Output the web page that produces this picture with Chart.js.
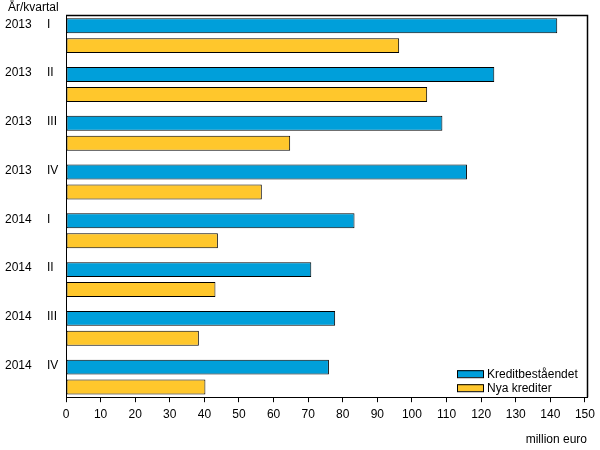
<!DOCTYPE html>
<html>
<head>
<meta charset="utf-8">
<script src="https://cdn.jsdelivr.net/npm/chart.js@4.4.0/dist/chart.umd.min.js"></script>
<style>
html,body{margin:0;padding:0;background:#fff;}
#wrap{width:600px;height:450px;position:relative;}
</style>
</head>
<body>
<div id="wrap"><canvas id="c" width="600" height="450"></canvas></div>
<script>
const years = ['2013','2013','2013','2013','2014','2014','2014','2014'];
const quarters = ['I','II','III','IV','I','II','III','IV'];
const kreditbestandet = [142.0, 123.8, 108.8, 115.9, 83.4, 70.9, 77.8, 76.0];
const nyaKrediter = [96.3, 104.4, 64.8, 56.6, 43.9, 43.2, 38.4, 40.3];
const seriesNames = ['Kreditbeståendet', 'Nya krediter'];
const axisTitleY = 'År/kvartal';
const axisTitleX = 'million euro';

const FONT = '"Liberation Sans", Arial, sans-serif';
const BLUE = '#009fda';
const YELLOW = '#ffc72c';

const labelShift = -0.235;
const yMin = -0.4245, yMax = 7.412;

function setTicks(scale){
  scale.ticks = years.map((_, i) => ({ value: i + labelShift }));
}

const overlayPlugin = {
  id: 'overlay',
  afterDraw(chart){
    const ctx = chart.ctx, a = chart.chartArea;
    ctx.save();
    ctx.strokeStyle = '#000';
    ctx.lineWidth = 1.5;
    ctx.beginPath();
    ctx.moveTo(a.left, Math.round(a.top) + 0.5);
    ctx.lineTo(Math.round(a.right) + 0.5, Math.round(a.top) + 0.5);
    ctx.lineTo(Math.round(a.right) + 0.5, a.bottom);
    ctx.stroke();
    ctx.fillStyle = '#000';
    ctx.font = '12px ' + FONT;
    ctx.textAlign = 'left';
    ctx.textBaseline = 'middle';
    ctx.fillText(axisTitleY, 8, 8);
    const ds = chart.data.datasets;
    const bx = a.right - 130, by0 = a.bottom - 27;
    ctx.lineWidth = 1;
    ds.forEach((d, i) => {
      const by = by0 + i * 14;
      ctx.fillStyle = d.backgroundColor;
      ctx.fillRect(bx, by, 26, 7);
      ctx.strokeStyle = '#000';
      ctx.strokeRect(bx + 0.5, by + 0.5, 26, 7);
      ctx.fillStyle = '#000';
      ctx.fillText(d.label, bx + 30, by + 4);
    });
    ctx.restore();
  }
};

const yCommon = {
  type: 'linear', position: 'left', reverse: true, min: yMin, max: yMax,
  offset: false,
  afterBuildTicks: setTicks,
  grid: { display: false, offset: false }
};

new Chart(document.getElementById('c'), {
  type: 'bar',
  data: {
    datasets: [
      { label: seriesNames[0], data: kreditbestandet.map((v, i) => ({ x: v, y: i })), backgroundColor: BLUE, borderColor: '#000', borderWidth: 1, borderSkipped: false, yAxisID: 'y' },
      { label: seriesNames[1], data: nyaKrediter.map((v, i) => ({ x: v, y: i })), backgroundColor: YELLOW, borderColor: '#000', borderWidth: 1, borderSkipped: false, yAxisID: 'y' }
    ]
  },
  options: {
    indexAxis: 'y',
    responsive: false,
    animation: false,
    devicePixelRatio: 1,
    categoryPercentage: 0.8163,
    barPercentage: 0.75,
    layout: { padding: { left: 5, top: 15, right: 13, bottom: 3 } },
    plugins: { legend: { display: false }, tooltip: { enabled: false } },
    scales: {
      x: {
        type: 'linear', min: 0, max: 150.6,
        ticks: { stepSize: 10, includeBounds: false, color: '#000', font: { family: FONT, size: 12 }, padding: 5, maxRotation: 0 },
        grid: { display: true, drawOnChartArea: false, drawTicks: true, tickLength: 5, color: '#000' },
        border: { display: true, color: '#000', width: 1 },
        title: { display: true, text: axisTitleX, align: 'end', color: '#000', font: { family: FONT, size: 12 }, padding: { top: 6, bottom: 0 } }
      },
      y: Object.assign({}, yCommon, {
        weight: 0,
        afterFit(scale){ scale.width = 19; },
        ticks: { autoSkip: false, crossAlign: 'far', color: '#000', font: { family: FONT, size: 12 }, callback: (v, i) => quarters[i] },
        border: { display: true, color: '#000', width: 1 }
      }),
      yYear: Object.assign({}, yCommon, {
        weight: 1,
        afterFit(scale){ scale.width = 42; },
        ticks: { autoSkip: false, crossAlign: 'far', color: '#000', font: { family: FONT, size: 12 }, callback: (v, i) => years[i] },
        border: { display: false }
      })
    }
  },
  plugins: [overlayPlugin]
});
</script>
</body>
</html>
